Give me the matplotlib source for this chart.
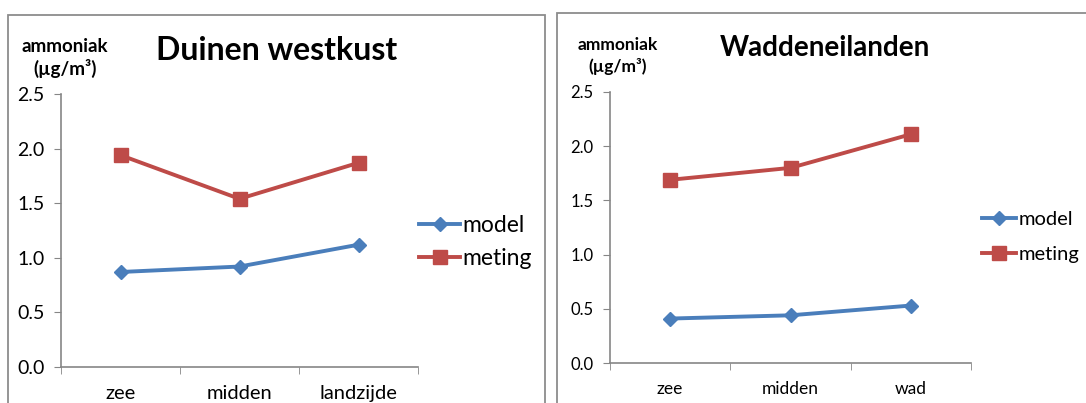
import matplotlib.pyplot as plt
from matplotlib.patches import Rectangle

plt.rcParams['font.family'] = ['Lato', 'DejaVu Sans']

# Data
west_cats = ["zee", "midden", "landzijde"]
west_model = [0.87, 0.92, 1.12]
west_meting = [1.94, 1.54, 1.87]

wad_cats = ["zee", "midden", "wad"]
wad_model = [0.41, 0.44, 0.53]
wad_meting = [1.69, 1.80, 2.11]

yticks = [0.0, 0.5, 1.0, 1.5, 2.0, 2.5]

blue = '#4a7ebb'
red = '#be4b48'
grey = '#868686'

W, H = 1086, 403
fig = plt.figure(figsize=(W / 100, H / 100), dpi=100)

# panel frames
fig.patches.append(Rectangle((8/W, -0.1), (545-8)/W, 1.1 - 15/H,
                             transform=fig.transFigure, fill=False,
                             edgecolor='#8c8c8c', lw=1.3))
fig.patches.append(Rectangle((557/W, -0.1), 0.6, 1.1 - 13/H,
                             transform=fig.transFigure, fill=False,
                             edgecolor='#8c8c8c', lw=1.3))


def panel(rect, cats, model, meting, title, title_xy, title_fs,
          ylab_xy, ylab_fs, leg_pos, tick_fs, leg_fs, hl, spacing):
    ax = fig.add_axes(rect)
    x = range(len(cats))
    ax.plot(x, model, color=blue, lw=2.8, marker='D', ms=7.5, label='model')
    ax.plot(x, meting, color=red, lw=2.8, marker='s', ms=10, label='meting')
    ax.set_xlim(-0.5, len(cats) - 0.5)
    ax.set_ylim(0, 2.5)
    ax.set_yticks(yticks)
    ax.set_yticklabels([f"{v:.1f}" for v in yticks], fontsize=tick_fs - 0.5)
    ax.set_xticks(list(x))
    ax.set_xticklabels(cats, fontsize=tick_fs)
    ax.set_xticks([i - 0.5 for i in range(len(cats) + 1)], minor=True)
    ax.tick_params(axis='x', which='major', length=0, pad=13)
    ax.tick_params(axis='x', which='minor', length=5, color=grey, direction='out')
    ax.tick_params(axis='y', length=5, color=grey, direction='out', pad=7)
    for s in ['top', 'right']:
        ax.spines[s].set_visible(False)
    for s in ['left', 'bottom']:
        ax.spines[s].set_color(grey)
        ax.spines[s].set_linewidth(1.2)
    fig.text(title_xy[0] / W, 1 - title_xy[1] / H, title, fontsize=title_fs,
             fontweight='bold', ha='center', va='center')
    fig.text(ylab_xy[0] / W, 1 - ylab_xy[1] / H, "ammoniak\n(µg/m³)",
             fontsize=ylab_fs, fontweight='bold', ha='center', va='center',
             linespacing=1.3)
    ax.legend(loc='center left', bbox_to_anchor=leg_pos,
              bbox_transform=fig.transFigure, frameon=False, fontsize=leg_fs,
              handlelength=hl, handletextpad=0.1, labelspacing=spacing,
              borderpad=0, borderaxespad=0)
    return ax


panel([61/W, 1 - 367/H, (418-61)/W, (367-94)/H],
      west_cats, west_model, west_meting, "Duinen westkust", (277, 50), 23,
      (65, 58), 13.5, (419/W, 1 - 242/H), 14.5, 16.5, 1.8, 0.55)
panel([610/W, 1 - 363/H, (971-610)/W, (363-92)/H],
      wad_cats, wad_model, wad_meting, "Waddeneilanden", (825, 48), 20,
      (618, 56), 12.5, (982/W, 1 - 237/H), 12.5, 14.5, 1.7, 0.85)

fig.savefig('out.png', dpi=100)
